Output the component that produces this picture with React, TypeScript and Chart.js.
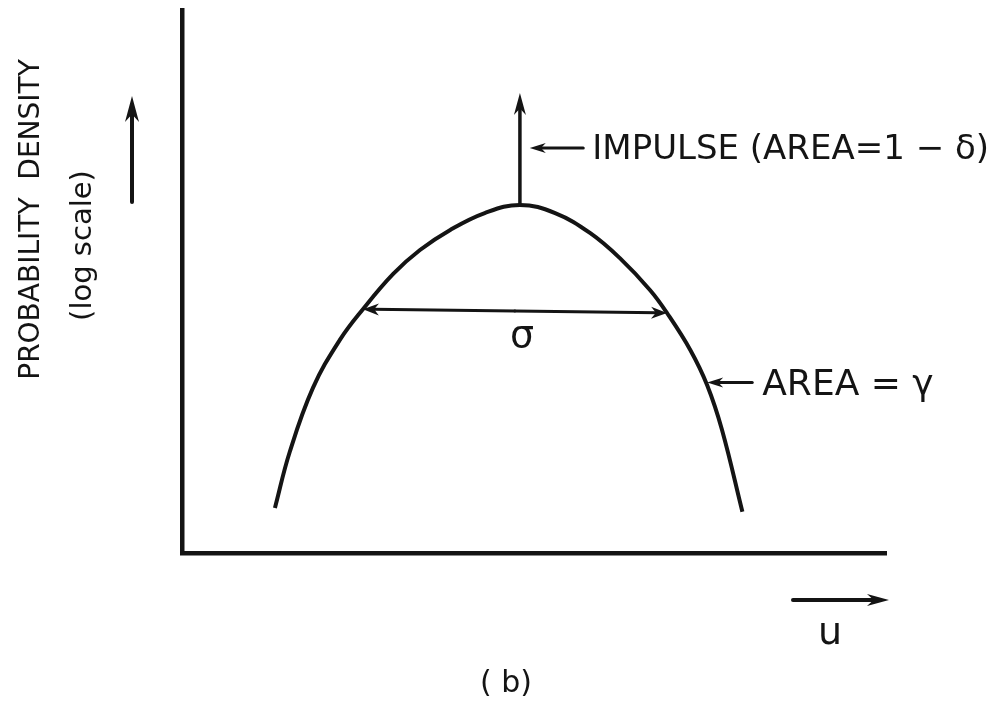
import React, { useEffect, useRef } from "react";
import { Chart, registerables } from "chart.js";

Chart.register(...registerables);

// Continuous part of the density (log scale) against u, sampled along the arc
const curveU = [13.2, 15.3, 18.6, 22.4, 25.7, 30.0, 33.8, 38.1, 43.0, 48.0, 53.0, 58.0, 62.2, 66.5, 68.9, 72.2, 74.6, 76.7, 79.6];
const curveLogDensity = [8.3, 18.6, 30.4, 39.2, 44.9, 51.4, 55.8, 59.5, 62.6, 64.1, 62.6, 58.9, 54.3, 48.4, 44.2, 37.4, 30.9, 22.7, 7.6];

// Impulse sitting on the mode of the curve
const impulseU = 48.0;
const impulseBase = 64.1;
const impulseTop = 84.7;

// Width marker (σ) spanning the arc
const sigmaStart = { u: 25.7, v: 44.9 };
const sigmaEnd = { u: 68.9, v: 44.2 };
const sigmaLabelAt = { u: 48.3, v: 39.8 };

// Leader arrows for the two area annotations
const impulseLeader = { from: 57.0, to: 49.4, v: 74.6 };
const tailLeader = { from: 81.0, to: 74.6, v: 31.4 };

// Texts
const yTitle = "PROBABILITY  DENSITY";
const ySubtitle = "(log scale)";
const xTitle = "u";
const impulseText = "IMPULSE (AREA=1 − δ)";
const tailText = "AREA = γ";
const sigmaText = "σ";
const panelText = "( b)";

const INK = "#141414";
const FONT = "'DejaVu Sans', 'Liberation Sans', sans-serif";

function drawArrow(
  ctx: CanvasRenderingContext2D,
  x1: number,
  y1: number,
  x2: number,
  y2: number,
  width: number,
  headLen: number,
  headHalf: number
) {
  const ang = Math.atan2(y2 - y1, x2 - x1);
  ctx.save();
  ctx.strokeStyle = INK;
  ctx.fillStyle = INK;
  ctx.lineWidth = width;
  ctx.lineCap = "round";
  ctx.beginPath();
  ctx.moveTo(x1, y1);
  ctx.lineTo(x2 - Math.cos(ang) * headLen * 0.6, y2 - Math.sin(ang) * headLen * 0.6);
  ctx.stroke();
  ctx.translate(x2, y2);
  ctx.rotate(ang);
  ctx.beginPath();
  ctx.moveTo(0, 0);
  ctx.lineTo(-headLen, -headHalf);
  ctx.lineTo(-headLen * 0.7, 0);
  ctx.lineTo(-headLen, headHalf);
  ctx.closePath();
  ctx.fill();
  ctx.restore();
}

const annotations = {
  id: "densityAnnotations",
  afterDraw(chart: Chart) {
    const { ctx, chartArea } = chart;
    const xs = chart.scales.x;
    const ys = chart.scales.y;
    const px = (u: number) => xs.getPixelForValue(u);
    const py = (v: number) => ys.getPixelForValue(v);

    ctx.save();
    ctx.fillStyle = INK;

    // impulse at the mode
    drawArrow(ctx, px(impulseU), py(impulseBase), px(impulseU), py(impulseTop), 3.5, 22, 6);

    // σ width marker, arrowheads at both ends
    const sx1 = px(sigmaStart.u), sy1 = py(sigmaStart.v);
    const sx2 = px(sigmaEnd.u), sy2 = py(sigmaEnd.v);
    const mx = (sx1 + sx2) / 2, my = (sy1 + sy2) / 2;
    drawArrow(ctx, mx, my, sx1, sy1, 3, 16, 6);
    drawArrow(ctx, mx, my, sx2, sy2, 3, 16, 6);
    ctx.font = `38px ${FONT}`;
    ctx.textAlign = "center";
    ctx.textBaseline = "middle";
    ctx.fillText(sigmaText, px(sigmaLabelAt.u), py(sigmaLabelAt.v));

    // impulse annotation
    drawArrow(ctx, px(impulseLeader.from), py(impulseLeader.v), px(impulseLeader.to), py(impulseLeader.v), 3, 16, 5);
    ctx.font = `34px ${FONT}`;
    ctx.textAlign = "left";
    ctx.textBaseline = "middle";
    ctx.fillText(impulseText, px(impulseLeader.from) + 9, py(impulseLeader.v) + 2);

    // tail area annotation
    drawArrow(ctx, px(tailLeader.from), py(tailLeader.v), px(tailLeader.to), py(tailLeader.v), 3, 16, 5);
    ctx.font = `36px ${FONT}`;
    ctx.fillText(tailText, px(tailLeader.from) + 10, py(tailLeader.v) + 3);

    // y-axis title and direction arrow
    const yMid = (chartArea.top + chartArea.bottom) / 2;
    ctx.save();
    ctx.translate(chartArea.left - 150, yMid - 62);
    ctx.rotate(-Math.PI / 2);
    ctx.font = `28px ${FONT}`;
    ctx.textAlign = "center";
    ctx.textBaseline = "middle";
    ctx.fillText(yTitle, 0, 0);
    ctx.restore();
    ctx.save();
    ctx.translate(chartArea.left - 99, yMid - 36);
    ctx.rotate(-Math.PI / 2);
    ctx.font = `29px ${FONT}`;
    ctx.textAlign = "center";
    ctx.textBaseline = "middle";
    ctx.fillText(ySubtitle, 0, 0);
    ctx.restore();
    drawArrow(ctx, chartArea.left - 50, chartArea.top + 192, chartArea.left - 50, chartArea.top + 86, 4, 26, 7);

    // x-axis direction arrow and title
    drawArrow(ctx, chartArea.right - 93, chartArea.bottom + 47, chartArea.right + 3, chartArea.bottom + 47, 4, 22, 6);
    ctx.font = `38px ${FONT}`;
    ctx.textAlign = "center";
    ctx.textBaseline = "middle";
    ctx.fillText(xTitle, chartArea.right - 56, chartArea.bottom + 81);

    // panel label
    ctx.font = `30px ${FONT}`;
    ctx.fillText(panelText, chartArea.left + 324, chartArea.bottom + 131);

    ctx.restore();
  },
};

export default function App() {
  const canvasRef = useRef<HTMLCanvasElement | null>(null);

  useEffect(() => {
    const canvas = canvasRef.current;
    if (!canvas) return;
    const chart = new Chart(canvas, {
      type: "scatter",
      data: {
        datasets: [
          {
            data: curveU.map((u, i) => ({ x: u, y: curveLogDensity[i] })),
            showLine: true,
            borderColor: INK,
            borderWidth: 4,
            pointRadius: 0,
            tension: 0.4,
            fill: false,
          },
        ],
      },
      options: {
        responsive: false,
        devicePixelRatio: 1,
        animation: false,
        layout: { padding: { left: 182, top: 10, right: 108, bottom: 151 } },
        plugins: { legend: { display: false }, tooltip: { enabled: false } },
        scales: {
          x: {
            type: "linear",
            min: 0,
            max: 100,
            ticks: { display: false },
            grid: { display: false, drawTicks: false },
            border: { display: true, color: INK, width: 4.5 },
          },
          y: {
            type: "linear",
            min: 0,
            max: 100,
            ticks: { display: false },
            grid: { display: false, drawTicks: false },
            border: { display: true, color: INK, width: 4.5 },
          },
        },
      },
      plugins: [annotations],
    });
    return () => chart.destroy();
  }, []);

  return (
    <div style={{ position: "fixed", left: 0, top: 0, width: 994, height: 704, background: "#fff" }}>
      <canvas ref={canvasRef} width={994} height={704} style={{ display: "block" }} />
    </div>
  );
}
